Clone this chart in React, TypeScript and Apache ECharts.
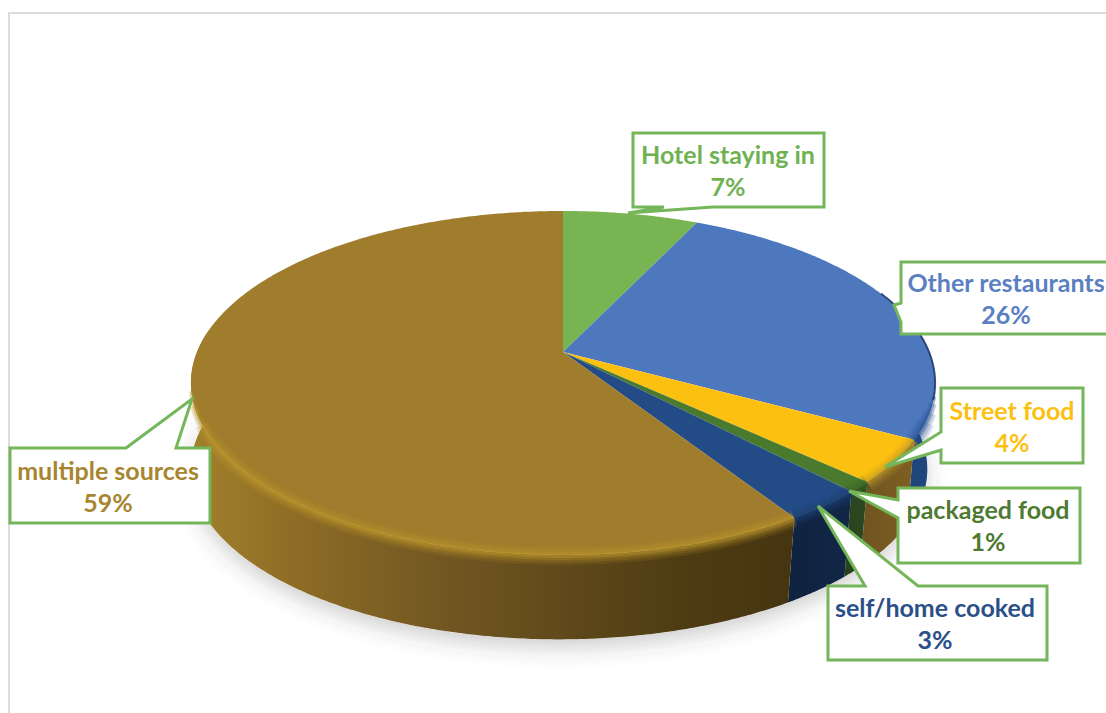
import React, { useEffect, useRef } from "react";
import * as echarts from "echarts";

// Where dining-out meals come from, as percentages of respondents.
const sources = ["Hotel staying in", "Other restaurants", "Street food", "packaged food", "self/home cooked", "multiple sources"];
const shares = [7, 26, 4, 1, 3, 59];

const faceColors = ["#78b451", "#4e78be", "#fcc010", "#4a7a2e", "#234b86", "#9f7d2c"];
const rimColors = ["#78b451", "#264f8f", "#b8962a", "#3b6326", "#1d3f74", "#bc962b"];
const labelColors = ["#70b252", "#5a80c2", "#fdc010", "#4f7a32", "#2b4f88", "#a8852f"];

// Stops of each slice's outer wall, left to right in page pixels.
const wallStops: [number, number, string[]][] = [
  [600, 760, ["#4f7a32", "#4f7a32"]],
  [880, 940, ["#1c3f70", "#214a82"]],
  [860, 910, ["#6f5320", "#7d5f22"]],
  [840, 860, ["#263f1c", "#2c4720"]],
  [790, 850, ["#0f2240", "#122746"]],
  [191, 800, ["#a1802b", "#8a6a25", "#735822", "#614a1b", "#4e3c13", "#453510"]],
];

// Perspective projection of the pie's unit circle onto the page.
const APEX_X = 563;
const APEX_Y = 352;
const SPREAD_X = 366;
const SPREAD_Y = 166.4;
const TILT = 0.18;
const WALL_DROP = 86.5;
const BASE_SCALE = 0.99;
const BASE_SHIFT = -4;
const FRONT_FROM = 80;
const FRONT_TO = 278;
const BEVEL_FROM = 102;
const BEVEL_TO = 262;
const EDGE_FROM = 68;

type Pt = [number, number];

function project(deg: number, drop = 0, scale = 1, shift = 0): Pt {
  const rad = (deg * Math.PI) / 180;
  const u = Math.sin(rad);
  const v = Math.cos(rad);
  const den = 1 + TILT * v;
  return [APEX_X + shift + (SPREAD_X * u * scale) / den, APEX_Y - (SPREAD_Y * v * scale) / den + drop];
}

function arc(from: number, to: number, drop = 0, scale = 1, shift = 0): Pt[] {
  const steps = Math.max(2, Math.ceil(Math.abs(to - from) * 2));
  const pts: Pt[] = [];
  for (let i = 0; i <= steps; i++) pts.push(project(from + ((to - from) * i) / steps, drop, scale, shift));
  return pts;
}

function sliceSpan(index: number): [number, number] {
  const total = shares.reduce((a, b) => a + b, 0);
  const before = shares.slice(0, index).reduce((a, b) => a + b, 0);
  return [(before / total) * 360, ((before + shares[index]) / total) * 360];
}

function wallFill(index: number) {
  const [x0, x1, colors] = wallStops[index];
  return new echarts.graphic.LinearGradient(
    x0, 0, x1, 0,
    colors.map((color, i) => ({ offset: i / (colors.length - 1), color })),
    true,
  );
}

function renderShadow(params: any) {
  if (params.dataIndex !== 0) return { type: "group", children: [] };
  return {
    type: "polygon",
    shape: { points: arc(0, 360, WALL_DROP, BASE_SCALE, BASE_SHIFT) },
    style: {
      fill: "#ffffff",
      shadowBlur: 20,
      shadowOffsetY: 9,
      shadowColor: "rgba(60,60,60,0.24)",
    },
  };
}

function renderWall(params: any) {
  const [a, b] = sliceSpan(params.dataIndex);
  const from = Math.max(a, FRONT_FROM);
  const to = Math.min(b, FRONT_TO);
  if (to <= from) return { type: "group", children: [] };
  return {
    type: "polygon",
    shape: { points: [...arc(from, to), ...arc(to, from, WALL_DROP, BASE_SCALE, BASE_SHIFT)] },
    style: { fill: wallFill(params.dataIndex) },
  };
}

function renderFace(params: any) {
  const [a, b] = sliceSpan(params.dataIndex);
  return {
    type: "polygon",
    shape: { points: [[APEX_X, APEX_Y], ...arc(a, b)] },
    style: { fill: faceColors[params.dataIndex] },
  };
}

// Soft bevel along the front of the rim: stacked translucent strokes, the wider
// ones stopping sooner so the band tapers towards the silhouette on both sides.
// Past the right-hand silhouette the rim is only a thin dark edge.
function renderBevel(params: any) {
  const [a, b] = sliceSpan(params.dataIndex);
  const color = rimColors[params.dataIndex];
  const bands: [number, number][] = [[18, 0.14], [13, 0.2], [8, 0.28], [4, 0.4]];
  const children: any[] = [];
  for (const [lineWidth, opacity] of bands) {
    const from = Math.max(a, BEVEL_FROM + lineWidth * 0.6);
    const to = Math.min(b, BEVEL_TO - lineWidth * 1.2);
    if (to <= from) continue;
    children.push({
      type: "polyline",
      shape: { points: arc(from, to, 1) },
      style: { fill: null, stroke: color, lineWidth, opacity },
    });
  }
  const edgeFrom = Math.max(a, EDGE_FROM);
  const edgeTo = Math.min(b, BEVEL_FROM + 4);
  if (edgeTo > edgeFrom) {
    children.push({
      type: "polyline",
      shape: { points: arc(edgeFrom, edgeTo) },
      style: { fill: null, stroke: "#1f3f72", lineWidth: 2, opacity: 0.9 },
    });
  }
  return { type: "group", children };
}

const customLayer = (renderItem: any, z: number) => ({
  type: "custom",
  coordinateSystem: "none",
  silent: true,
  z,
  renderItem,
  data: shares.map((v) => [v]),
});

// Callout boxes: outline with its pointer, and the centre of the two text lines.
const CALLOUT_LINE = 32;
const callouts: { outline: Pt[]; cx: number; cy: number }[] = [
  { outline: [[633, 133], [824, 133], [824, 207], [713, 207], [628, 213], [664, 207], [633, 207]], cx: 728, cy: 170 },
  { outline: [[901, 262], [1120, 262], [1120, 334], [901, 334], [901, 322], [894, 305], [901, 303]], cx: 1006, cy: 298 },
  { outline: [[941, 388], [1083, 388], [1083, 463], [941, 463], [941, 450], [885, 467], [941, 432]], cx: 1012, cy: 426 },
  { outline: [[898, 488], [1080, 488], [1080, 563], [898, 563], [898, 518], [849, 491], [898, 500]], cx: 988, cy: 525 },
  { outline: [[828, 586], [865, 586], [818, 506], [918, 586], [1047, 586], [1047, 660], [828, 660]], cx: 935, cy: 623 },
  { outline: [[10, 448], [126, 448], [192, 399], [176, 448], [210, 448], [210, 523], [10, 523]], cx: 108, cy: 486 },
];

const calloutGraphics = callouts.flatMap((c, i) => [
  {
    type: "polygon",
    z: 20,
    shape: { points: c.outline },
    style: { fill: "#ffffff", stroke: "#75b65a", lineWidth: 3 },
  },
  {
    type: "text",
    z: 21,
    x: c.cx,
    y: c.cy,
    style: {
      text: `${sources[i]}\n${shares[i]}%`,
      x: 0,
      y: 0,
      align: "center",
      verticalAlign: "middle",
      lineHeight: CALLOUT_LINE,
      font: 'bold 25px Lato, "Noto Sans", sans-serif',
      fill: labelColors[i],
    },
  },
]);

const frameGraphics = [
  { type: "rect", z: 1, shape: { x: 8, y: 12, width: 2, height: 701 }, style: { fill: "#dcdcdc" } },
  { type: "rect", z: 1, shape: { x: 8, y: 12, width: 1098, height: 2 }, style: { fill: "#dcdcdc" } },
];

export default function App() {
  const ref = useRef<HTMLDivElement>(null);

  useEffect(() => {
    document.body.style.margin = "0";
    const chart = echarts.init(ref.current!, null, { renderer: "svg" });
    chart.setOption({
      animation: false,
      backgroundColor: "#ffffff",
      graphic: { elements: [...frameGraphics, ...calloutGraphics] },
      series: [
        customLayer(renderShadow, 2),
        customLayer(renderWall, 3),
        customLayer(renderFace, 4),
        customLayer(renderBevel, 5),
      ],
    });
    return () => chart.dispose();
  }, []);

  return <div ref={ref} style={{ width: 1106, height: 713, overflow: "hidden" }} />;
}
